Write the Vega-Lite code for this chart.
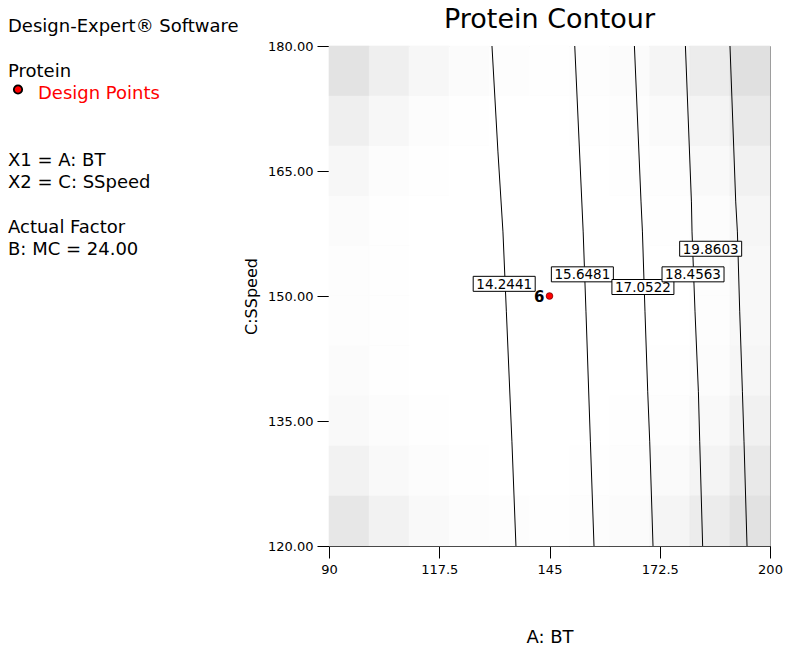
{
  "$schema": "https://vega.github.io/schema/vega-lite/v6.json",
  "padding": {"left": 8, "top": 5, "right": 0, "bottom": 0},
  "autosize": {"type": "pad"},
  "background": "white",
  "bounds": "flush",
  "spacing": 71,
  "config": {"view": {"stroke": null}},
  "datasets": {
    "notes": [
      {"text": "Design-Expert® Software", "line": 0, "kind": "plain"},
      {"text": "Protein", "line": 2, "kind": "plain"},
      {"text": "Design Points", "line": 3, "kind": "legend"},
      {"text": "X1 = A: BT", "line": 6, "kind": "plain"},
      {"text": "X2 = C: SSpeed", "line": 7, "kind": "plain"},
      {"text": "Actual Factor", "line": 9, "kind": "plain"},
      {"text": "B: MC = 24.00", "line": 10, "kind": "plain"}
    ],
    "legendDot": [{"line": 2.58, "kind": "Design Points"}],
    "grid": [
      {"x":90,"x2":100,"y":174,"y2":180,"se":90},{"x":100,"x2":110,"y":174,"y2":180,"se":50},{"x":110,"x2":120,"y":174,"y2":180,"se":25},{"x":120,"x2":130,"y":174,"y2":180,"se":12},{"x":130,"x2":140,"y":174,"y2":180,"se":6},{"x":140,"x2":150,"y":174,"y2":180,"se":4},{"x":150,"x2":160,"y":174,"y2":180,"se":6},{"x":160,"x2":170,"y":174,"y2":180,"se":14},{"x":170,"x2":180,"y":174,"y2":180,"se":32},{"x":180,"x2":190,"y":174,"y2":180,"se":62},{"x":190,"x2":200,"y":174,"y2":180,"se":100},
      {"x":90,"x2":100,"y":168,"y2":174,"se":50},{"x":100,"x2":110,"y":168,"y2":174,"se":24},{"x":110,"x2":120,"y":168,"y2":174,"se":10},{"x":120,"x2":130,"y":168,"y2":174,"se":4},{"x":130,"x2":140,"y":168,"y2":174,"se":1},{"x":140,"x2":150,"y":168,"y2":174,"se":0},{"x":150,"x2":160,"y":168,"y2":174,"se":2},{"x":160,"x2":170,"y":168,"y2":174,"se":6},{"x":170,"x2":180,"y":168,"y2":174,"se":16},{"x":180,"x2":190,"y":168,"y2":174,"se":36},{"x":190,"x2":200,"y":168,"y2":174,"se":70},
      {"x":90,"x2":100,"y":162,"y2":168,"se":24},{"x":100,"x2":110,"y":162,"y2":168,"se":10},{"x":110,"x2":120,"y":162,"y2":168,"se":3},{"x":120,"x2":130,"y":162,"y2":168,"se":0},{"x":130,"x2":140,"y":162,"y2":168,"se":0},{"x":140,"x2":150,"y":162,"y2":168,"se":0},{"x":150,"x2":160,"y":162,"y2":168,"se":0},{"x":160,"x2":170,"y":162,"y2":168,"se":2},{"x":170,"x2":180,"y":162,"y2":168,"se":7},{"x":180,"x2":190,"y":162,"y2":168,"se":18},{"x":190,"x2":200,"y":162,"y2":168,"se":45},
      {"x":90,"x2":100,"y":156,"y2":162,"se":12},{"x":100,"x2":110,"y":156,"y2":162,"se":4},{"x":110,"x2":120,"y":156,"y2":162,"se":0},{"x":120,"x2":130,"y":156,"y2":162,"se":0},{"x":130,"x2":140,"y":156,"y2":162,"se":0},{"x":140,"x2":150,"y":156,"y2":162,"se":0},{"x":150,"x2":160,"y":156,"y2":162,"se":0},{"x":160,"x2":170,"y":156,"y2":162,"se":0},{"x":170,"x2":180,"y":156,"y2":162,"se":3},{"x":180,"x2":190,"y":156,"y2":162,"se":10},{"x":190,"x2":200,"y":156,"y2":162,"se":30},
      {"x":90,"x2":100,"y":150,"y2":156,"se":7},{"x":100,"x2":110,"y":150,"y2":156,"se":2},{"x":110,"x2":120,"y":150,"y2":156,"se":0},{"x":120,"x2":130,"y":150,"y2":156,"se":0},{"x":130,"x2":140,"y":150,"y2":156,"se":0},{"x":140,"x2":150,"y":150,"y2":156,"se":0},{"x":150,"x2":160,"y":150,"y2":156,"se":0},{"x":160,"x2":170,"y":150,"y2":156,"se":0},{"x":170,"x2":180,"y":150,"y2":156,"se":1},{"x":180,"x2":190,"y":150,"y2":156,"se":6},{"x":190,"x2":200,"y":150,"y2":156,"se":22},
      {"x":90,"x2":100,"y":144,"y2":150,"se":7},{"x":100,"x2":110,"y":144,"y2":150,"se":2},{"x":110,"x2":120,"y":144,"y2":150,"se":0},{"x":120,"x2":130,"y":144,"y2":150,"se":0},{"x":130,"x2":140,"y":144,"y2":150,"se":0},{"x":140,"x2":150,"y":144,"y2":150,"se":0},{"x":150,"x2":160,"y":144,"y2":150,"se":0},{"x":160,"x2":170,"y":144,"y2":150,"se":0},{"x":170,"x2":180,"y":144,"y2":150,"se":1},{"x":180,"x2":190,"y":144,"y2":150,"se":6},{"x":190,"x2":200,"y":144,"y2":150,"se":22},
      {"x":90,"x2":100,"y":138,"y2":144,"se":12},{"x":100,"x2":110,"y":138,"y2":144,"se":4},{"x":110,"x2":120,"y":138,"y2":144,"se":0},{"x":120,"x2":130,"y":138,"y2":144,"se":0},{"x":130,"x2":140,"y":138,"y2":144,"se":0},{"x":140,"x2":150,"y":138,"y2":144,"se":0},{"x":150,"x2":160,"y":138,"y2":144,"se":0},{"x":160,"x2":170,"y":138,"y2":144,"se":0},{"x":170,"x2":180,"y":138,"y2":144,"se":3},{"x":180,"x2":190,"y":138,"y2":144,"se":10},{"x":190,"x2":200,"y":138,"y2":144,"se":30},
      {"x":90,"x2":100,"y":132,"y2":138,"se":20},{"x":100,"x2":110,"y":132,"y2":138,"se":8},{"x":110,"x2":120,"y":132,"y2":138,"se":2},{"x":120,"x2":130,"y":132,"y2":138,"se":0},{"x":130,"x2":140,"y":132,"y2":138,"se":0},{"x":140,"x2":150,"y":132,"y2":138,"se":0},{"x":150,"x2":160,"y":132,"y2":138,"se":0},{"x":160,"x2":170,"y":132,"y2":138,"se":2},{"x":170,"x2":180,"y":132,"y2":138,"se":7},{"x":180,"x2":190,"y":132,"y2":138,"se":18},{"x":190,"x2":200,"y":132,"y2":138,"se":45},
      {"x":90,"x2":100,"y":126,"y2":132,"se":42},{"x":100,"x2":110,"y":126,"y2":132,"se":20},{"x":110,"x2":120,"y":126,"y2":132,"se":8},{"x":120,"x2":130,"y":126,"y2":132,"se":3},{"x":130,"x2":140,"y":126,"y2":132,"se":1},{"x":140,"x2":150,"y":126,"y2":132,"se":0},{"x":150,"x2":160,"y":126,"y2":132,"se":2},{"x":160,"x2":170,"y":126,"y2":132,"se":6},{"x":170,"x2":180,"y":126,"y2":132,"se":16},{"x":180,"x2":190,"y":126,"y2":132,"se":36},{"x":190,"x2":200,"y":126,"y2":132,"se":70},
      {"x":90,"x2":100,"y":120,"y2":126,"se":78},{"x":100,"x2":110,"y":120,"y2":126,"se":42},{"x":110,"x2":120,"y":120,"y2":126,"se":20},{"x":120,"x2":130,"y":120,"y2":126,"se":10},{"x":130,"x2":140,"y":120,"y2":126,"se":5},{"x":140,"x2":150,"y":120,"y2":126,"se":4},{"x":150,"x2":160,"y":120,"y2":126,"se":6},{"x":160,"x2":170,"y":120,"y2":126,"se":14},{"x":170,"x2":180,"y":120,"y2":126,"se":32},{"x":180,"x2":190,"y":120,"y2":126,"se":62},{"x":190,"x2":200,"y":120,"y2":126,"se":95}
    ],
    "contours": [
      {"level":"14.2441","x":130.65,"y":180},{"level":"14.2441","x":132.14,"y":167.29},{"level":"14.2441","x":133.39,"y":157.69},{"level":"14.2441","x":134.24,"y":148.1},{"level":"14.2441","x":135.63,"y":132.5},{"level":"14.2441","x":136.63,"y":120},
      {"level":"15.6481","x":151.3,"y":180},{"level":"15.6481","x":153.4,"y":157.69},{"level":"15.6481","x":154.1,"y":148.1},{"level":"15.6481","x":155.2,"y":132.5},{"level":"15.6481","x":156.1,"y":120},
      {"level":"17.0522","x":166.18,"y":180},{"level":"17.0522","x":167.83,"y":161.29},{"level":"17.0522","x":168.18,"y":157.69},{"level":"17.0522","x":168.82,"y":148.1},{"level":"17.0522","x":169.5,"y":138.5},{"level":"17.0522","x":170.0,"y":132.5},{"level":"17.0522","x":170.82,"y":120},
      {"level":"18.4563","x":178.9,"y":180},{"level":"18.4563","x":180.4,"y":161.29},{"level":"18.4563","x":180.55,"y":157.69},{"level":"18.4563","x":181.3,"y":148.1},{"level":"18.4563","x":182.14,"y":138.5},{"level":"18.4563","x":182.47,"y":132.5},{"level":"18.4563","x":183.2,"y":120},
      {"level":"19.8603","x":190.02,"y":180},{"level":"19.8603","x":191.45,"y":161.29},{"level":"19.8603","x":191.87,"y":157.69},{"level":"19.8603","x":192.45,"y":148.1},{"level":"19.8603","x":193.12,"y":138.5},{"level":"19.8603","x":193.52,"y":132.5},{"level":"19.8603","x":194.27,"y":120}
    ],
    "labels": [
      {"label":"14.2441","x":133.7,"y":151.46},
      {"label":"15.6481","x":153.2,"y":152.6},
      {"label":"17.0522","x":168.3,"y":151.08},
      {"label":"18.4563","x":180.8,"y":152.6},
      {"label":"19.8603","x":185.2,"y":155.67}
    ],
    "points": [{"x":145,"y":150,"count":"6"}]
  },
  "hconcat": [
    {
      "width": 250,
      "height": 500,
      "view": {"stroke": null},
      "encoding": {
        "y": {"field": "line", "type": "quantitative", "scale": {"domain": [23.05, 0.63], "nice": false, "zero": false}, "axis": null}
      },
      "layer": [
        {
          "data": {"name": "notes"},
          "transform": [{"filter": "datum.kind == 'plain'"}],
          "mark": {"type": "text", "align": "left", "baseline": "alphabetic", "font": "DejaVu Sans", "fontSize": 18, "color": "#000000"},
          "encoding": {
            "x": {"value": 0},
            "text": {"field": "text"}
          }
        },
        {
          "data": {"name": "notes"},
          "transform": [{"filter": "datum.kind == 'legend'"}],
          "mark": {"type": "text", "align": "left", "baseline": "alphabetic", "font": "DejaVu Sans", "fontSize": 18, "color": "#ff0000", "dx": 30},
          "encoding": {
            "x": {"value": 0},
            "text": {"field": "text"}
          }
        },
        {
          "data": {"name": "legendDot"},
          "mark": {"type": "point", "filled": true, "shape": "circle", "size": 70, "fill": "#ff0000", "stroke": "#000000", "strokeWidth": 1.8, "opacity": 1},
          "encoding": {
            "x": {"value": 10}
          }
        }
      ]
    },
    {
      "width": 441,
      "height": 500,
      "view": {"stroke": "#808080", "strokeWidth": 1},
      "title": {"text": "Protein Contour", "font": "DejaVu Sans", "fontSize": 27, "fontWeight": "normal", "color": "#000000", "anchor": "middle", "frame": "group", "baseline": "alphabetic", "offset": -15},
      "encoding": {
        "x": {
          "field": "x", "type": "quantitative", "title": "A: BT",
          "scale": {"domain": [90, 200], "nice": false, "zero": false},
          "axis": {"values": [90, 117.5, 145, 172.5, 200], "format": ".4~g", "grid": false, "tickSize": 12, "tickColor": "#000000", "domainColor": "#000000", "labelPadding": 5, "labelFont": "DejaVu Sans", "labelFontSize": 13, "labelColor": "#000000", "labelFlush": false, "titleFont": "DejaVu Sans", "titleFontSize": 18, "titleFontWeight": "normal", "titleColor": "#000000", "titlePadding": 52}
        },
        "y": {
          "field": "y", "type": "quantitative", "title": "C:SSpeed",
          "scale": {"domain": [120, 180], "nice": false, "zero": false},
          "axis": {"values": [120, 135, 150, 165, 180], "format": ".2f", "grid": false, "tickSize": 12, "tickColor": "#000000", "domainColor": "#000000", "labelPadding": 4, "labelFont": "DejaVu Sans", "labelFontSize": 13, "labelColor": "#000000", "labelFlush": false, "titleFont": "DejaVu Sans", "titleFontSize": 16, "titleFontWeight": "normal", "titleColor": "#000000", "titlePadding": 8}
        }
      },
      "layer": [
        {
          "data": {"name": "grid"},
          "mark": {"type": "rect", "strokeWidth": 0.6},
          "encoding": {
            "x2": {"field": "x2"},
            "y2": {"field": "y2"},
            "fill": {"field": "se", "type": "quantitative", "scale": {"domain": [0, 100], "range": ["#ffffff", "#e0e0e0"]}, "legend": null},
            "stroke": {"field": "se", "type": "quantitative", "scale": {"domain": [0, 100], "range": ["#ffffff", "#e0e0e0"]}, "legend": null}
          }
        },
        {
          "data": {"name": "contours"},
          "mark": {"type": "line", "color": "#000000", "strokeWidth": 1},
          "encoding": {
            "detail": {"field": "level", "type": "nominal"},
            "order": {"field": "y", "type": "quantitative"}
          }
        },
        {
          "data": {"name": "labels"},
          "mark": {"type": "rect", "width": 62, "height": 15, "fill": "#ffffff", "stroke": "#000000", "strokeWidth": 1},
          "encoding": {}
        },
        {
          "data": {"name": "labels"},
          "mark": {"type": "text", "font": "DejaVu Sans", "fontSize": 13.5, "color": "#000000", "align": "center", "baseline": "middle", "dy": 1},
          "encoding": {"text": {"field": "label"}}
        },
        {
          "data": {"name": "points"},
          "mark": {"type": "point", "filled": true, "shape": "circle", "size": 45, "fill": "#ff0000", "stroke": "#800000", "strokeWidth": 0.8, "opacity": 1},
          "encoding": {}
        },
        {
          "data": {"name": "points"},
          "mark": {"type": "text", "font": "DejaVu Sans", "fontSize": 15, "fontWeight": "bold", "color": "#000000", "align": "right", "baseline": "middle", "dx": -5, "dy": 1},
          "encoding": {"text": {"field": "count"}}
        }
      ]
    }
  ]
}
